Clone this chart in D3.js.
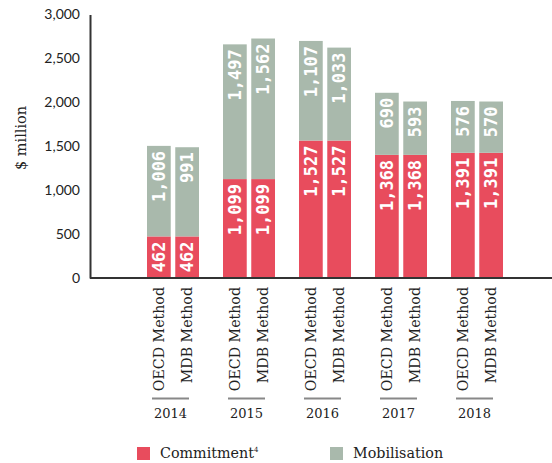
<!DOCTYPE html>
<html><head><meta charset="utf-8">
<script src="https://cdn.jsdelivr.net/npm/d3@7"></script>
<style>body{margin:0;background:#fff}</style>
</head><body>
<svg id="c" width="552" height="463"></svg>
<script>
const years = ["2014","2015","2016","2017","2018"];
const methods = ["OECD Method","MDB Method"];
const commitment = [[462,462],[1099,1099],[1527,1527],[1368,1368],[1391,1391]];
const mobilisation = [[1006,991],[1497,1562],[1107,1033],[690,593],[576,570]];
const yTicks = [0,500,1000,1500,2000,2500,3000];
const seriesNames = ["Commitment","Mobilisation"];

const RED = "#E84C5D", GREEN = "#A9B9AC";
const svg = d3.select("#c");
// axis scale (tick positions) and bar scale (bars in the original are drawn slightly taller)
const y = d3.scaleLinear().domain([0,3000]).range([278,14.5]);
const yb = d3.scaleLinear().domain([0,3000]).range([278,8]);
const x = d3.scaleBand().domain(years).range([132.5,512.5]);
const xi = d3.scaleBand().domain(methods).range([14.5,66.5]).paddingInner(0.16);

// y axis
const yAxis = d3.axisLeft(y).tickValues(yTicks).tickFormat(d3.format(",")).tickSize(0).tickPadding(10);
const ga = svg.append("g").attr("transform","translate(90,0)").call(yAxis);
ga.select(".domain").attr("stroke","#333").attr("stroke-width",2);
ga.selectAll("text").attr("font-family","Lato, 'Open Sans', sans-serif").attr("font-size",14).attr("fill","#222");

svg.append("text").attr("transform","translate(21,138) rotate(-90)")
  .attr("text-anchor","middle").attr("dominant-baseline","central")
  .attr("font-family","'DejaVu Serif', serif").attr("font-size",14.5).attr("fill","#222").text("$ million");

// bars
const rows = [];
years.forEach((yr,i)=>methods.forEach((m,j)=>rows.push({yr,m,c:commitment[i][j],mob:mobilisation[i][j]})));
const g = svg.append("g");
rows.forEach(r=>{
  const bx = x(r.yr)+xi(r.m), bw = xi.bandwidth();
  g.append("rect").attr("x",bx).attr("width",bw).attr("y",yb(r.c)).attr("height",yb(0)-yb(r.c)).attr("fill",RED);
  g.append("rect").attr("x",bx).attr("width",bw).attr("y",yb(r.c+r.mob)).attr("height",yb(r.c)-yb(r.c+r.mob)).attr("fill",GREEN);
  const cx = bx+bw/2;
  [[r.c, yb(r.c)],[r.mob, yb(r.c+r.mob)]].forEach(([v,top])=>{
    g.append("text").attr("transform",`translate(${cx},${top+5}) rotate(-90)`)
      .attr("text-anchor","end").attr("dominant-baseline","central")
      .attr("font-family","'DejaVu Sans Mono', monospace").attr("font-weight","bold").attr("font-size",17)
      .attr("fill","#fff").text(d3.format(",")(v));
  });
});

// x axis line
svg.append("line").attr("x1",90).attr("x2",552).attr("y1",278).attr("y2",278).attr("stroke","#333").attr("stroke-width",2);

// method labels, separators, years
years.forEach(yr=>{
  methods.forEach(m=>{
    const cx = x(yr)+xi(m)+xi.bandwidth()/2;
    svg.append("text").attr("transform",`translate(${cx},287) rotate(-90)`)
      .attr("text-anchor","end").attr("dominant-baseline","central")
      .attr("font-family","'DejaVu Serif', serif").attr("font-size",14.2).attr("fill","#222").text(m);
  });
  const gx = x(yr)+x.bandwidth()/2;
  svg.append("line").attr("x1",gx-18.5).attr("x2",gx+18.5).attr("y1",398.5).attr("y2",398.5).attr("stroke","#888").attr("stroke-width",2);
  svg.append("text").attr("x",gx).attr("y",413).attr("text-anchor","middle").attr("dominant-baseline","central")
    .attr("font-family","'DejaVu Serif', serif").attr("font-size",13).attr("fill","#222").text(yr);
});

// legend
const leg = [[seriesNames[0],RED,137,"4"],[seriesNames[1],GREEN,330,null]];
leg.forEach(([name,col,lx,sup])=>{
  svg.append("rect").attr("x",lx).attr("y",447).attr("width",13).attr("height",13).attr("fill",col);
  const t = svg.append("text").attr("x",lx+23).attr("y",458).attr("font-family","'DejaVu Serif', serif").attr("font-size",14.3).attr("fill","#222").text(name);
  if(sup) t.append("tspan").attr("font-size",7).attr("dy",-6).text(sup);
});
</script>
</body></html>
